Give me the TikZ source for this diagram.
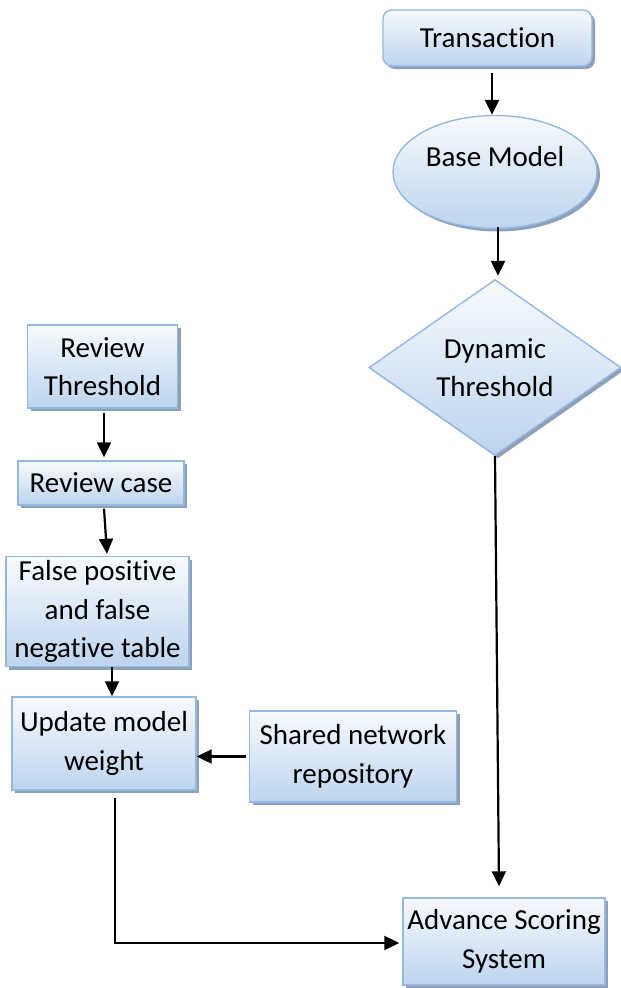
\documentclass[tikz,border=0pt]{standalone}
\usepackage{fontspec}
\setmainfont{Carlito}[Ligatures=NoCommon]
\usetikzlibrary{arrows.meta,shapes.geometric,shadows}
\definecolor{bordblue}{HTML}{95B8E0}
\definecolor{topfill}{HTML}{F7FAFD}
\definecolor{botfill}{HTML}{BDD4EE}
\definecolor{shadowc}{HTML}{8DA0B8}
\tikzset{
  shapebase/.style={draw=bordblue, line width=1.4pt, top color=topfill, bottom color=botfill,
    drop shadow={shadow xshift=3pt, shadow yshift=-3pt, fill=shadowc, opacity=1},
    inner sep=0pt, align=center, font=\fontsize{29}{38.5}\selectfont},
  box/.style={shapebase, rectangle},
  rbox/.style={shapebase, rectangle, rounded corners=9pt},
  ell/.style={shapebase, ellipse},
  dia/.style={shapebase, diamond},
  arr/.style={line width=2.2pt, -{Triangle[length=15pt,width=14pt]}},
  plain/.style={line width=1.8pt}
}
\begin{document}
\begin{tikzpicture}[x=1pt,y=-1pt]
\useasboundingbox (0,0) rectangle (621,988);
\node[rbox, minimum width=209pt, minimum height=56pt] (trans) at (487.5,38) {Transaction};
\node[ell, minimum width=204pt, minimum height=113pt] (base) at (495,172) {\raisebox{6pt}[0pt][0pt]{Base Model}};
\node[dia, minimum width=252pt, minimum height=175pt] (dyn) at (495,367.5) {Dynamic\\Threshold};
\node[box, minimum width=150pt, minimum height=83pt] (revth) at (102.5,366.5) {Review\\Threshold};
\node[box, minimum width=166pt, minimum height=44pt] (revcase) at (101,483) {Review case};
\node[box, minimum width=183pt, minimum height=110pt] (fp) at (97.5,611.5) {False positive\\and false\\negative table};
\node[box, minimum width=184pt, minimum height=93pt] (upd) at (104,743.5) {Update model\\weight};
\node[box, minimum width=207pt, minimum height=91pt] (shared) at (353,756.5) {Shared network\\repository};
\node[box, minimum width=202pt, minimum height=87pt] (adv) at (504,941.5) {Advance Scoring\\System};
\coordinate (corner) at (115,943);
% connectors
\draw[arr] ([shift={(4.5,6)}]trans.south) -- (base.north -| {492,0});
\draw[arr] ([shift={(3,-2)}]base.south) -- ([shift={(3,-3)}]dyn.north);
\draw[arr] (dyn.south) -- ([shift={(-5,-11)}]adv.north);
\draw[arr] ([shift={(1.5,4)}]revth.south) -- ([shift={(3,-3)}]revcase.north);
\draw[arr] ([shift={(3,3)}]revcase.south) -- ([shift={(9.5,-2)}]fp.north);
\draw[arr] ([shift={(14.5,0)}]fp.south) -- ([shift={(8,0)}]upd.north);
\draw[arr] ([shift={(-3,0)}]shared.west) -- (upd.east |- shared.west);
\draw[plain] ([shift={(11,7)}]upd.south) -- (corner);
\draw[arr] ([xshift=-0.9pt]corner) -- ([shift={(-3,0)}]adv.west |- corner);
\end{tikzpicture}
\end{document}
